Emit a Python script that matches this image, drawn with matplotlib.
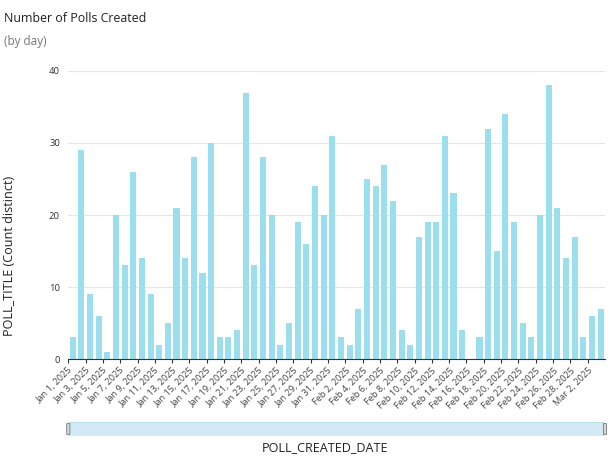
import numpy as np
import pandas as pd
import matplotlib
matplotlib.use("Agg")
import matplotlib.pyplot as plt
from matplotlib.patches import FancyBboxPatch, Rectangle

plt.rcParams['font.family'] = ['Open Sans', 'DejaVu Sans']

# Daily counts
dates = pd.date_range("2025-01-01", "2025-03-03", freq="D")
counts = [3, 29, 9, 6, 1, 20, 13, 26, 14, 9, 2, 5, 21, 14, 28, 12, 30, 3, 3, 4,
          37, 13, 28, 20, 2, 5, 19, 16, 24, 20, 31,
          3, 2, 7, 25, 24, 27, 22, 4, 2, 17, 19, 19, 31, 23, 4, 0, 3, 32, 15,
          34, 19, 5, 3, 20, 38, 21, 14,
          17, 3, 6, 7]
tick_labels = [f"{d.strftime('%b')} {d.day}, {d.year}" for d in dates]

bar_color = "#9BDFEF"

fig = plt.figure(figsize=(6.16, 4.61), dpi=100)
ax = fig.add_axes([68.3 / 616, 1 - 359 / 461, (605 - 68.3) / 616, (359 - 71) / 461])

x = np.arange(len(counts))
ax.bar(x + 0.5, counts, width=0.7, color=bar_color, zorder=2)

ax.set_xlim(0, len(counts))
ax.set_ylim(0, 40)
ax.set_yticks([0, 10, 20, 30, 40])
ax.tick_params(axis='y', length=0, labelsize=6.8, pad=6, colors="#333333")
ax.yaxis.grid(True, color="#E6E6E6", linewidth=0.8, zorder=0)

ticks = x[::2]
ax.set_xticks(ticks)
ax.set_xticklabels([tick_labels[i] for i in ticks], rotation=45, ha='right',
                   rotation_mode='anchor', fontsize=6.6, color="#444444")
ax.tick_params(axis='x', length=3, width=0.8, color="#333333", pad=2)

for s in ['top', 'right', 'left']:
    ax.spines[s].set_visible(False)
ax.spines['bottom'].set_color("#333333")
ax.spines['bottom'].set_linewidth(0.8)

ax.set_ylabel("POLL_TITLE (Count distinct)", fontsize=9.1, color="#222222")
ax.yaxis.set_label_coords(-0.098, (359 - 256) / 288)

fig.text(4 / 616, 1 - 18 / 461, "Number of Polls Created", fontsize=8.9,
         color="#222222", va='center', ha='left')
fig.text(4 / 616, 1 - 41 / 461, "(by day)", fontsize=8.5, color="#777777",
         va='center', ha='left')

# scrollbar beneath the chart
sb = fig.add_axes([68.3 / 616, 1 - 436 / 461, (605 - 68.3) / 616, 14 / 461])
sb.set_xlim(0, 1)
sb.set_ylim(0, 1)
sb.axis('off')
sb.add_patch(Rectangle((0, 0), 1, 1, facecolor="#D3EBF6", edgecolor="#B9DCEC",
                       linewidth=0.8))
for hx in (0.0, 1.0):
    sb.add_patch(FancyBboxPatch((hx - 0.003, 0.12), 0.006, 0.76,
                                boxstyle="round,pad=0,rounding_size=0.003",
                                facecolor="#D9D9D9", edgecolor="#777777",
                                linewidth=0.6, clip_on=False))

fig.text(325 / 616, 1 - 448 / 461, "POLL_CREATED_DATE", fontsize=9.1,
         color="#222222", va='center', ha='center')

fig.savefig("out.png", dpi=100)
